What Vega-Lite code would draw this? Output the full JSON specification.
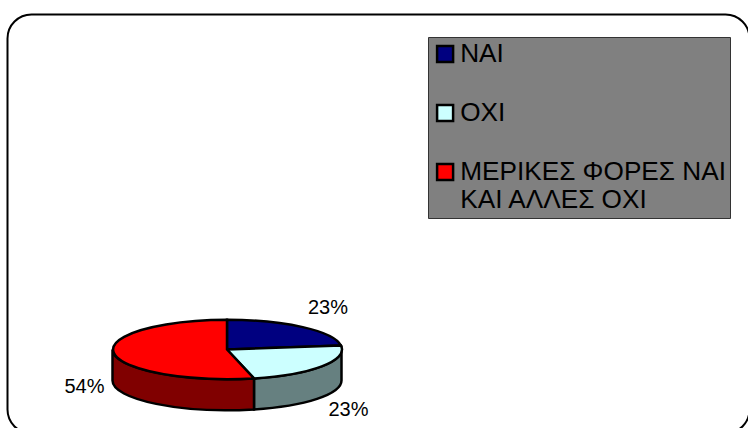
{
"$schema":"https://vega.github.io/schema/vega-lite/v6.json",
"width":742,"height":419,
"autosize":"none",
"padding":{"left":7.5,"top":14.5,"right":0,"bottom":0},
"background":"white",
"view":{"stroke":"black","strokeWidth":2,"cornerRadius":24,"fill":"white"},
"config":{"font":"Liberation Sans"},
"resolve":{"scale":{"shape":"independent","fill":"independent"}},
"data":{"values":[
{"category":"ΝΑΙ","value":23,"label":"23%"},
{"category":"ΟΧΙ","value":23,"label":"23%"},
{"category":"ΜΕΡΙΚΕΣ ΦΟΡΕΣ ΝΑΙ ΚΑΙ ΑΛΛΕΣ ΟΧΙ","value":54,"label":"54%"}
]},
"layer":[
{"transform":[{"filter":"datum.category!='ΝΑΙ'"}],
"mark":{"type":"point","filled":true,"opacity":1,"size":4,"stroke":"black","strokeWidth":2.5},
"encoding":{
"shape":{"field":"category","type":"nominal","legend":null,"scale":{"domain":["ΟΧΙ","ΜΕΡΙΚΕΣ ΦΟΡΕΣ ΝΑΙ ΚΑΙ ΑΛΛΕΣ ΟΧΙ"],"range":[
"M-124.5 154.4A114.5 29.7 0 0 0 -37 125.5L-37 156.5A114.5 29.7 0 0 1 -124.5 185.4Z",
"M-124.5 154.4A114.5 29.7 0 0 1 -266 125.5L-266 156.5A114.5 29.7 0 0 0 -124.5 185.4Z"]}},
"fill":{"field":"category","type":"nominal","legend":null,"scale":{"domain":["ΟΧΙ","ΜΕΡΙΚΕΣ ΦΟΡΕΣ ΝΑΙ ΚΑΙ ΑΛΛΕΣ ΟΧΙ"],"range":["#668080","#800000"]}}
}},
{"mark":{"type":"point","filled":true,"opacity":1,"size":4,"stroke":"black","strokeWidth":2.5},
"encoding":{
"shape":{"field":"category","type":"nominal","legend":null,"scale":{"domain":["ΝΑΙ","ΟΧΙ","ΜΕΡΙΚΕΣ ΦΟΡΕΣ ΝΑΙ ΚΑΙ ΑΛΛΕΣ ΟΧΙ"],"range":[
"M-151.5 125.5L-151.5 95.8A114.5 29.7 0 0 1 -37.5 121.6Z",
"M-151.5 125.5L-37.5 121.6A114.5 29.7 0 0 1 -124.5 154.4Z",
"M-151.5 125.5L-124.5 154.4A114.5 29.7 0 1 1 -151.5 95.8Z"]}},
"fill":{"field":"category","type":"nominal","legend":null,
"scale":{"domain":["ΝΑΙ","ΟΧΙ","ΜΕΡΙΚΕΣ ΦΟΡΕΣ ΝΑΙ ΚΑΙ ΑΛΛΕΣ ΟΧΙ"],"range":["#000080","#CCFFFF","#FF0000"]}}
}},
{"mark":{"type":"square","size":0,"opacity":1},
"encoding":{
"fill":{"field":"category","type":"nominal",
"scale":{"domain":["ΝΑΙ","ΟΧΙ","ΜΕΡΙΚΕΣ ΦΟΡΕΣ ΝΑΙ ΚΑΙ ΑΛΛΕΣ ΟΧΙ"],"range":["#000080","#CCFFFF","#FF0000"]},
"legend":{"title":null,"orient":"none","legendX":420.5,"legendY":22.5,"fillColor":"#808080","strokeColor":"#333333","padding":4,
"symbolType":"square","symbolSize":256,"symbolStrokeColor":"black","symbolStrokeWidth":2.5,"symbolOpacity":1,
"labelFont":"Liberation Sans","labelFontSize":26.2,"labelColor":"black","labelLimit":400,"labelOffset":2,"rowPadding":32,
"labelExpr":"datum.label=='ΜΕΡΙΚΕΣ ΦΟΡΕΣ ΝΑΙ ΚΑΙ ΑΛΛΕΣ ΟΧΙ' ? ['ΜΕΡΙΚΕΣ ΦΟΡΕΣ ΝΑΙ','ΚΑΙ ΑΛΛΕΣ ΟΧΙ'] : datum.label"}}
}},
{"transform":[{"filter":"datum.category=='ΝΑΙ'"}],
"mark":{"type":"text","font":"Liberation Sans","fontSize":20,"color":"black","dx":-50.5,"dy":84},
"encoding":{"text":{"field":"label","type":"nominal"}}},
{"transform":[{"filter":"datum.category=='ΟΧΙ'"}],
"mark":{"type":"text","font":"Liberation Sans","fontSize":20,"color":"black","dx":-30,"dy":186},
"encoding":{"text":{"field":"label","type":"nominal"}}},
{"transform":[{"filter":"datum.value==54"}],
"mark":{"type":"text","font":"Liberation Sans","fontSize":20,"color":"black","dx":-294,"dy":163},
"encoding":{"text":{"field":"label","type":"nominal"}}}
]
}
